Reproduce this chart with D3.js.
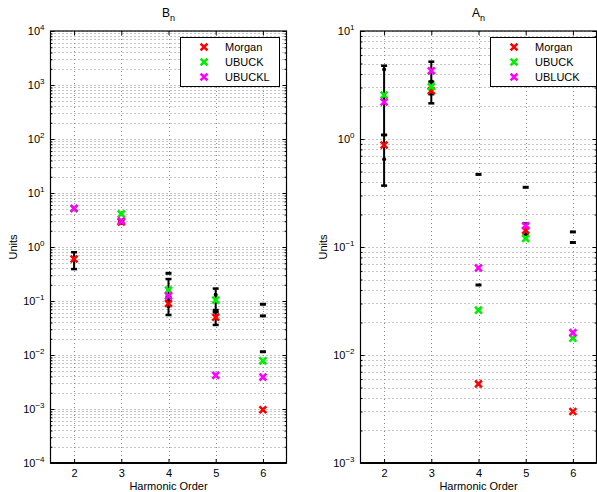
<!DOCTYPE html>
<html>
<head>
<meta charset="utf-8">
<script src="https://cdn.jsdelivr.net/npm/d3@7"></script>
<style>
  body { margin: 0; background: #fff; }
  svg { font-family: "Liberation Sans", Arial, Helvetica, sans-serif; }
</style>
</head>
<body>
<div id="vis"></div>
<script>
// harmonic orders
const orders = [2, 3, 4, 5, 6];

// B_n panel
const bnMorgan = [0.6, 2.9, 0.09, 0.05, 0.00097];
const bnUbuck = [5.1, 4.1, 0.16, 0.104, 0.0078];
const bnUbuckl = [5.2, 3.05, 0.124, 0.0042, 0.0039];
const bnBarX = [2, 3, 4, 4, 5, 5];
const bnBarY = [0.58, 2.85, 0.08, 0.16, 0.048, 0.13];
const bnBarLo = [0.39, 2.75, 0.055, 0.10, 0.036, 0.062];
const bnBarHi = [0.8, 2.95, 0.12, 0.255, 0.068, 0.17];
const bnDashX = [4, 6, 6, 6];
const bnDashY = [0.326, 0.087, 0.053, 0.0115];

// A_n panel
const anMorgan = [0.88, 2.8, 0.0054, 0.143, 0.003];
const anUbuck = [2.55, 3.05, 0.026, 0.12, 0.0143];
const anUbluck = [2.2, 4.28, 0.064, 0.157, 0.0161];
const anBarX = [2, 2, 3, 3, 5];
const anBarY = [0.65, 4.4, 3.4, 2.8, 0.145];
const anBarLo = [0.37, 1.09, 2.14, 2.6, 0.13];
const anBarHi = [1.09, 4.77, 5.2, 3.4, 0.165];
const anDashX = [4, 4, 5, 6, 6];
const anDashY = [0.47, 0.0445, 0.357, 0.138, 0.11];

const W = 597, H = 492;
const svg = d3.select('#vis').append('svg')
    .attr('width', W)
    .attr('height', H);

const colors = {Morgan: '#ff0000', UBUCK: '#00ee00', UBUCKL: '#ff00ff'};

function panel(opts) {
    const x = d3.scaleLinear().domain([1.5, 6.5]).range([opts.left, opts.right]);
    const y = d3.scaleLog().domain(opts.yDomain).range([463, 31]);
    const g = svg.append('g');

    const decades = d3.range(Math.log10(opts.yDomain[0]), Math.log10(opts.yDomain[1]) + 1).map(e => Math.pow(10, e));
    const minors = [];
    decades.slice(0, -1).forEach(d => { for (let k = 2; k < 10; k++) minors.push(d * k); });

    // dotted grid
    const grid = g.append('g').attr('stroke', '#8a8a8a').attr('stroke-width', 1).attr('stroke-dasharray', '1,3');
    grid.selectAll('.hg').data(decades.concat(minors)).enter().append('line')
        .attr('x1', opts.left).attr('x2', opts.right)
        .attr('y1', d => Math.round(y(d)) + 0.5).attr('y2', d => Math.round(y(d)) + 0.5);
    grid.selectAll('.vg').data(orders).enter().append('line')
        .attr('x1', d => Math.round(x(d)) + 0.5).attr('x2', d => Math.round(x(d)) + 0.5)
        .attr('y1', 31).attr('y2', 463);

    // axes
    const yAxis = g.append('g').attr('transform', `translate(${opts.left},0)`)
        .call(d3.axisLeft(y).tickValues(decades).tickSize(-4).tickPadding(6).tickFormat(d => ''));
    yAxis.selectAll('.tick text').each(function(d) {
        const t = d3.select(this).attr('font-size', 11).attr('fill', '#000').attr('dy', '0.32em');
        t.append('tspan').text('10');
        t.append('tspan').attr('font-size', 8).attr('dy', '-0.6em').text(String(Math.round(Math.log10(d))).replace('-', '\u2212'));
    });
    g.append('g').attr('transform', `translate(${opts.left},0)`)
        .call(d3.axisLeft(y).tickValues(minors).tickSize(-2).tickFormat(''));
    g.append('g').attr('transform', `translate(${opts.right},0)`)
        .call(d3.axisRight(y).tickValues(decades).tickSize(-4).tickFormat(''));
    g.append('g').attr('transform', `translate(${opts.right},0)`)
        .call(d3.axisRight(y).tickValues(minors).tickSize(-2).tickFormat(''));
    g.append('g').attr('transform', 'translate(0,463)')
        .call(d3.axisBottom(x).tickValues(orders).tickSize(-4).tickPadding(6).tickFormat(d3.format('d')))
        .selectAll('text').attr('font-size', 11).attr('fill', '#000');
    g.append('g').attr('transform', 'translate(0,31)')
        .call(d3.axisTop(x).tickValues(orders).tickSize(-4).tickFormat(''));
    g.selectAll('.domain').remove();
    g.selectAll('.tick line').attr('stroke', '#000');

    // frame
    g.append('rect').attr('x', opts.left).attr('y', 31)
        .attr('width', opts.right - opts.left).attr('height', 432)
        .attr('fill', 'none').attr('stroke', '#000').attr('stroke-width', 1.2);
    g.append('line').attr('x1', opts.left).attr('x2', opts.right).attr('y1', 463).attr('y2', 463)
        .attr('stroke', '#000').attr('stroke-width', 2);

    // error bars
    const bars = opts.barX.map((bx, i) => ({x: bx, y: opts.barY[i], lo: opts.barLo[i], hi: opts.barHi[i]}));
    const eb = g.append('g').attr('stroke', '#000').attr('stroke-width', 2);
    eb.selectAll('.ebl').data(bars).enter().append('line')
        .attr('x1', d => x(d.x)).attr('x2', d => x(d.x))
        .attr('y1', d => y(d.lo)).attr('y2', d => y(d.hi));
    eb.selectAll('.ebc').data(bars.flatMap(d => [{x: d.x, v: d.lo}, {x: d.x, v: d.hi}])).enter().append('line')
        .attr('x1', d => x(d.x) - 3).attr('x2', d => x(d.x) + 3)
        .attr('y1', d => y(d.v)).attr('y2', d => y(d.v)).attr('stroke-width', 2.5);
    eb.selectAll('.ebd').data(bars).enter().append('circle')
        .attr('cx', d => x(d.x)).attr('cy', d => y(d.y)).attr('r', 2).attr('fill', '#000').attr('stroke', 'none');
    const dashes = opts.dashX.map((dx, i) => ({x: dx, y: opts.dashY[i]}));
    eb.selectAll('.dash').data(dashes).enter().append('line')
        .attr('x1', d => x(d.x) - 3).attr('x2', d => x(d.x) + 3)
        .attr('y1', d => y(d.y)).attr('y2', d => y(d.y)).attr('stroke-width', 3);

    // markers
    const sym = d3.symbol().type(d3.symbolX).size(32);
    opts.series.forEach(s => {
        g.append('g').selectAll('path').data(s.values).enter().append('path')
            .attr('d', sym)
            .attr('transform', (v, i) => `translate(${x(orders[i])},${y(v)})`)
            .attr('fill', 'none').attr('stroke', colors[s.key]).attr('stroke-width', 2.6);
    });

    // legend
    const lg = g.append('g');
    lg.append('rect').attr('x', opts.legend[0] + 0.5).attr('y', 37.5)
        .attr('width', opts.legend[1]).attr('height', 49)
        .attr('fill', '#fff').attr('stroke', '#000').attr('stroke-width', 1);
    opts.series.forEach((s, i) => {
        const ly = 47 + i * 15;
        lg.append('path').attr('d', sym)
            .attr('transform', `translate(${opts.legend[0] + 24},${ly})`)
            .attr('fill', 'none').attr('stroke', colors[s.key]).attr('stroke-width', 2.6);
        lg.append('text').attr('x', opts.legend[0] + 45).attr('y', ly).attr('dy', '0.35em')
            .attr('font-size', 11).text(s.label);
    });

    // title
    const title = g.append('text').attr('x', (opts.left + opts.right) / 2).attr('y', 17)
        .attr('text-anchor', 'middle').attr('font-size', 12);
    title.append('tspan').text(opts.title);
    title.append('tspan').attr('font-size', 9).attr('dy', '0.4em').text('n');

    g.append('text').attr('x', (opts.left + opts.right) / 2).attr('y', 490)
        .attr('text-anchor', 'middle').attr('font-size', 11).text('Harmonic Order');
    g.append('text').attr('transform', `translate(${opts.left - 34},247) rotate(-90)`)
        .attr('text-anchor', 'middle').attr('font-size', 11).text('Units');
}

panel({
    left: 50.5, right: 286.5, yDomain: [1e-4, 1e4], title: 'B',
    series: [
        {key: 'Morgan', label: 'Morgan', values: bnMorgan},
        {key: 'UBUCK', label: 'UBUCK', values: bnUbuck},
        {key: 'UBUCKL', label: 'UBUCKL', values: bnUbuckl}
    ],
    barX: bnBarX, barY: bnBarY, barLo: bnBarLo, barHi: bnBarHi,
    dashX: bnDashX, dashY: bnDashY,
    legend: [180, 99]
});

panel({
    left: 360.5, right: 596.5, yDomain: [1e-3, 1e1], title: 'A',
    series: [
        {key: 'Morgan', label: 'Morgan', values: anMorgan},
        {key: 'UBUCK', label: 'UBUCK', values: anUbuck},
        {key: 'UBUCKL', label: 'UBLUCK', values: anUbluck}
    ],
    barX: anBarX, barY: anBarY, barLo: anBarLo, barHi: anBarHi,
    dashX: anDashX, dashY: anDashY,
    legend: [490, 106]
});
</script>
</body>
</html>
